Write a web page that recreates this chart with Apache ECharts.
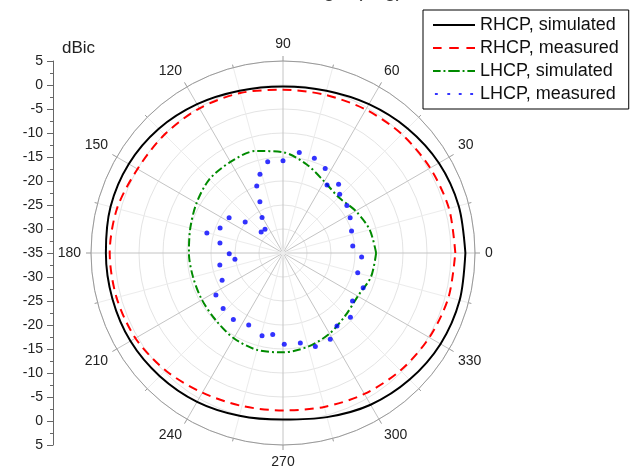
<!DOCTYPE html>
<html>
<head>
<meta charset="utf-8">
<script src="https://cdn.jsdelivr.net/npm/echarts@6/dist/echarts.min.js"></script>
<style>
html,body{margin:0;padding:0;background:#fff;}
#chart{width:630px;height:469px;}
</style>
</head>
<body>
<div id="chart"></div>
<script>
// Angles (deg) for the simulated / smooth curves
const angles = [0,15,30,45,60,75,90,105,120,135,150,165,180,195,210,225,240,255,270,285,300,315,330,345,360];
// RHCP simulated (dBic)
const rhcpSim = [3.0,2.9,2.5,1.7,0.8,0.0,-0.3,0.0,0.8,1.6,2.1,2.2,1.9,1.8,1.7,1.3,0.8,0.1,-0.3,0.4,1.5,2.3,2.9,3.1,3.0];
// RHCP measured (dBic)
const rhcpMeas = [0.9,0.8,0.4,0.0,-0.5,-0.9,-1.0,-0.5,-0.2,-0.1,0.0,0.8,1.1,0.9,0.5,-0.4,-1.4,-2.0,-2.2,-1.8,-1.1,-0.4,0.2,0.7,0.9];
// LHCP simulated (dBic)
const lhcpSim = [-15.6,-16.3,-17.5,-18.6,-17.8,-15.9,-14.0,-13.0,-13.1,-13.3,-14.2,-15.0,-15.4,-15.6,-15.5,-15.2,-14.5,-14.1,-14.3,-14.8,-15.6,-16.6,-17.0,-16.0,-15.6];
// LHCP measured: angles and values
const lhcpMeasAngles = [5.7,17.8,27.7,36.7,46,51,57.1,63.5,71.7,80.8,90,99.5,106.3,111.4,114.3,120.5,127.2,136.3,140.6,146.9,158.4,165.3,171,180.7,187.5,190.8,204.1,212.1,222.8,233.3,244.5,255.8,262.8,270.8,280.9,289.1,298.7,306.5,316.4,325.4,336.6,345.2,357.1];
const lhcpMeas = [-20.4,-20.0,-19.2,-18.4,-18.0,-16.6,-18.1,-15.3,-14.2,-13.8,-15.8,-15.7,-17.9,-20.0,-23.3,-26.4,-28.8,-28.7,-24.8,-21.6,-20.9,-18.6,-21.7,-23.8,-24.9,-21.6,-21.1,-18.5,-18.0,-17.7,-18.4,-17.2,-17.9,-16.0,-15.9,-14.4,-14.5,-16.1,-15.6,-17.4,-16.8,-18.9,-18.6];
// Series names
const names = ['RHCP, simulated','RHCP, measured','LHCP, simulated','LHCP, measured'];

const pair = (vals, angs) => vals.map((v,i) => [v, angs[i]]);

const chart = echarts.init(document.getElementById('chart'), null, {renderer:'canvas'});
const axisGrey = '#9a9a9a';
chart.setOption({
  animation: false,
  backgroundColor: '#ffffff',
  textStyle: { fontFamily: 'Liberation Sans, Arial, sans-serif' },
  title: {
    text: 'Angle (deg)', left: 294, top: -24,
    textStyle: { fontSize: 20, fontWeight: 'normal', color: '#333' }
  },
  legend: {
    orient: 'vertical', left: 423, top: 10,
    padding: [6, 10, 6, 10], itemGap: 5, itemWidth: 42, itemHeight: 3,
    borderColor: '#000', borderWidth: 1, backgroundColor: '#fff',
    selectedMode: false,
    itemStyle: { borderWidth: 0 },
    textStyle: { fontSize: 18, color: '#111' },
    data: [
      { name: names[0], icon: 'path://M0,0H44V2H0Z' },
      { name: names[1], icon: 'path://M0,0H9V2H0Z M17,0H27V2H17Z M35,0H44V2H35Z' },
      { name: names[2], icon: 'path://M0,0H8V2H0Z M11,0H13V2H11Z M16,0H28V2H16Z M31,0H33V2H31Z M36,0H44V2H36Z' },
      { name: names[3], icon: 'path://M2,0H5V2H2Z M15,0H18V2H15Z M27,0H30V2H27Z M39,0H42V2H39Z M0,0.9H0.01V1H0Z M43.99,0.9H44V1H43.99Z' }
    ]
  },
  grid: { left: 53, top: 61, width: 10, height: 384 },
  xAxis: { type: 'value', show: false, min: 0, max: 1 },
  yAxis: {
    type: 'value', min: -40, max: 40, interval: 5, position: 'left',
    name: 'dBic', nameLocation: 'end', nameGap: 4,
    nameTextStyle: { fontSize: 17, color: '#222', align: 'left', padding: [0, 0, 0, 9] },
    axisLine: { show: true, lineStyle: { color: '#666' } },
    axisTick: { show: true, length: 6, lineStyle: { color: '#666' } },
    minorTick: { show: true, splitNumber: 2, length: 3, lineStyle: { color: '#666' } },
    splitLine: { show: false },
    axisLabel: { fontSize: 14, color: '#222', margin: 10, formatter: v => String(Math.abs(v) - 35) }
  },
  polar: { center: [283, 253], radius: 192 },
  angleAxis: {
    type: 'value', min: 0, max: 360, interval: 30, startAngle: 0, clockwise: false,
    axisLine: { lineStyle: { color: axisGrey, width: 1 } },
    axisTick: { show: true, length: 5, lineStyle: { color: axisGrey } },
    minorTick: { show: true, splitNumber: 2, length: 3, lineStyle: { color: axisGrey } },
    splitLine: { show: true, lineStyle: { color: '#c4c4c4' } },
    minorSplitLine: { show: true, lineStyle: { color: '#ececec' } },
    axisLabel: { margin: 10, fontSize: 14, color: '#222', formatter: v => (v === 360 ? '' : String(v)) }
  },
  radiusAxis: {
    type: 'value', min: -35, max: 5, interval: 5,
    axisLine: { show: false }, axisTick: { show: false }, axisLabel: { show: false },
    splitLine: { show: true, lineStyle: { color: '#e4e4e4' } }
  },
  series: [
    {
      name: names[0], type: 'line', coordinateSystem: 'polar', smooth: 0.3,
      showSymbol: false, symbol: 'none', data: pair(rhcpSim, angles),
      itemStyle: { color: '#000000' },
      lineStyle: { color: '#000000', width: 2 }, z: 5
    },
    {
      name: names[1], type: 'line', coordinateSystem: 'polar', smooth: 0.3,
      showSymbol: false, symbol: 'none', data: pair(rhcpMeas, angles),
      itemStyle: { color: '#ff0000' },
      lineStyle: { color: '#ff0000', width: 2, type: [9, 6] }, z: 4
    },
    {
      name: names[2], type: 'line', coordinateSystem: 'polar', smooth: 0.3,
      showSymbol: false, symbol: 'none', data: pair(lhcpSim, angles),
      itemStyle: { color: '#008a00' },
      lineStyle: { color: '#008a00', width: 2, type: [8, 3, 2, 3] }, z: 4
    },
    {
      name: names[3], type: 'scatter', coordinateSystem: 'polar',
      symbol: 'circle', symbolSize: 5, data: pair(lhcpMeas, lhcpMeasAngles),
      itemStyle: { color: '#0000ff' }, z: 6
    }
  ]
});
</script>
</body>
</html>
